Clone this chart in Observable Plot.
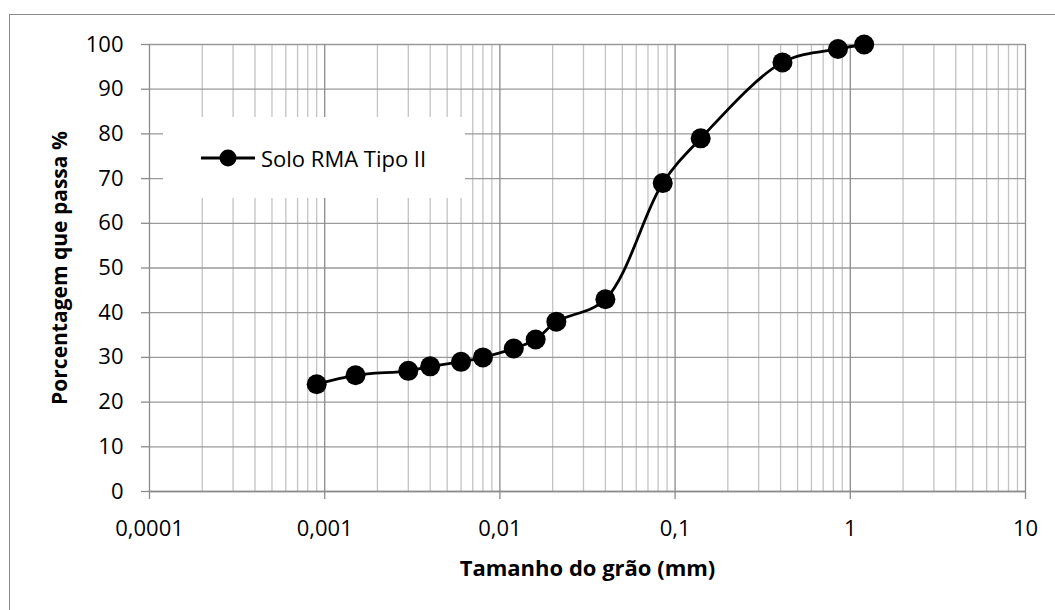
<!DOCTYPE html>
<html><head><meta charset="utf-8">
<script src="https://cdn.jsdelivr.net/npm/d3@7"></script>
<script src="https://cdn.jsdelivr.net/npm/@observablehq/plot@0.6"></script>
<style>
html,body{margin:0;padding:0;background:#fff;overflow:hidden}
#wrap{position:relative;width:1055px;height:610px;font-family:"Open Sans",sans-serif;overflow:hidden}
#chart{position:absolute;left:0;top:0}
#frame{position:absolute;left:9px;top:14px;width:2000px;height:2000px;border-left:1.5px solid #8a8a8a;border-top:1.5px solid #8a8a8a;pointer-events:none}
#legend{position:absolute;left:163px;top:117px;width:302px;height:81px;background:#fff;display:flex;align-items:center}
#legend svg{margin-left:37px;display:block}
#legend span{margin-left:5px;font-size:22px;color:#000;line-height:1}
</style></head><body>
<div id="wrap"><div id="chart"></div><div id="frame"></div>
<div id="legend"><svg width="56" height="20"><line x1="1" x2="55" y1="10" y2="10" stroke="#000" stroke-width="2.8"/><circle cx="28" cy="10" r="8.5" fill="#000"/></svg><span id="legtext"></span></div>
</div>
<script>
const seriesName = "Solo RMA Tipo II";
const grainSize = [0.0009, 0.0015, 0.003, 0.004, 0.006, 0.008, 0.012, 0.016, 0.021, 0.04, 0.085, 0.14, 0.41, 0.85, 1.2];
const percentPassing = [24, 26, 27, 28, 29, 30, 32, 34, 38, 43, 69, 79, 96, 99, 100];
const xTicks = [0.0001, 0.001, 0.01, 0.1, 1, 10];
const xTickLabels = ["0,0001", "0,001", "0,01", "0,1", "1", "10"];
const yTicks = [0, 10, 20, 30, 40, 50, 60, 70, 80, 90, 100];
const minorMultipliers = [2, 3, 4, 5, 6, 7, 8, 9];
const xTitle = "Tamanho do grão (mm)";
const yTitle = "Porcentagem que passa %";

const data = grainSize.map((g, i) => ({size: g, pct: percentPassing[i]}));
const minorTicks = xTicks.slice(0, -1).flatMap(d => minorMultipliers.map(m => d * m));

document.getElementById("legtext").textContent = seriesName;

const chart = Plot.plot({
  width: 1055, height: 610,
  marginLeft: 149, marginRight: 30, marginTop: 44, marginBottom: 119,
  style: {fontFamily: '"Open Sans", sans-serif', fontSize: "22px", color: "#000", background: "transparent", overflow: "visible"},
  x: {type: "log", domain: [1e-4, 10]},
  y: {domain: [0, 100]},
  marks: [
    Plot.ruleX(minorTicks, {stroke: "#c3c3c3", strokeWidth: 1.3}),
    Plot.ruleY(yTicks, {stroke: "#9a9a9a", strokeWidth: 1.3}),
    Plot.ruleX(xTicks, {stroke: "#8c8c8c", strokeWidth: 1.3}),
    Plot.ruleY([0], {stroke: "#8c8c8c", strokeWidth: 1.5}),
    Plot.axisX({ticks: xTicks, tickFormat: d => xTickLabels[xTicks.indexOf(d)], tickSize: 8, tickPadding: 21, label: null, stroke: "#8c8c8c", strokeWidth: 1.3, fill: "#000"}),
    Plot.axisY({ticks: yTicks, tickSize: 8, tickPadding: 18, label: null, stroke: "#8c8c8c", strokeWidth: 1.3, fill: "#000"}),
    Plot.text([xTitle], {text: d => d, frameAnchor: "bottom", dy: 77, fontWeight: "bold", fontSize: 22, lineAnchor: "middle", fill: "#000"}),
    Plot.text([yTitle], {text: d => d, frameAnchor: "left", dx: -89, rotate: -90, textAnchor: "middle", fontWeight: "bold", fontSize: 21, lineAnchor: "middle", fill: "#000"}),
    Plot.line(data, {x: "size", y: "pct", curve: "catmull-rom", stroke: "#000", strokeWidth: 2.8}),
    Plot.dot(data, {x: "size", y: "pct", r: 10, fill: "#000"})
  ]
});
document.getElementById("chart").appendChild(chart);
</script>
</body></html>
